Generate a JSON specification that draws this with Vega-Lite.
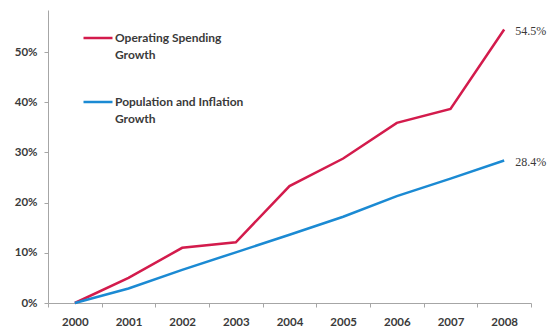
{
  "$schema": "https://vega.github.io/schema/vega-lite/v6.json",
  "width": 483,
  "height": 293,
  "autosize": {"type": "none"},
  "padding": {"left": 48, "top": 10, "right": 21, "bottom": 28},
  "background": "white",
  "config": {
    "view": {"stroke": null},
    "font": "Lato",
    "style": {"guide-label": {"lineHeight": 17}}
  },
  "data": {
    "values": [
      {"year": 2000, "series": "Operating Spending Growth", "value": 0.0},
      {"year": 2001, "series": "Operating Spending Growth", "value": 0.05},
      {"year": 2002, "series": "Operating Spending Growth", "value": 0.11},
      {"year": 2003, "series": "Operating Spending Growth", "value": 0.121},
      {"year": 2004, "series": "Operating Spending Growth", "value": 0.233},
      {"year": 2005, "series": "Operating Spending Growth", "value": 0.288},
      {"year": 2006, "series": "Operating Spending Growth", "value": 0.359},
      {"year": 2007, "series": "Operating Spending Growth", "value": 0.387},
      {"year": 2008, "series": "Operating Spending Growth", "value": 0.545},
      {"year": 2000, "series": "Population and Inflation Growth", "value": 0.0},
      {"year": 2001, "series": "Population and Inflation Growth", "value": 0.029},
      {"year": 2002, "series": "Population and Inflation Growth", "value": 0.066},
      {"year": 2003, "series": "Population and Inflation Growth", "value": 0.101},
      {"year": 2004, "series": "Population and Inflation Growth", "value": 0.136},
      {"year": 2005, "series": "Population and Inflation Growth", "value": 0.172},
      {"year": 2006, "series": "Population and Inflation Growth", "value": 0.213},
      {"year": 2007, "series": "Population and Inflation Growth", "value": 0.248},
      {"year": 2008, "series": "Population and Inflation Growth", "value": 0.284}
    ]
  },
  "encoding": {
    "x": {
      "field": "year",
      "type": "quantitative",
      "scale": {"domain": [1999.5, 2008.5], "nice": false, "zero": false},
      "axis": {
        "title": null,
        "grid": false,
        "values": [1999.5, 2000, 2000.5, 2001, 2001.5, 2002, 2002.5, 2003, 2003.5, 2004, 2004.5, 2005, 2005.5, 2006, 2006.5, 2007, 2007.5, 2008, 2008.5],
        "labelExpr": "datum.value % 1 === 0 ? format(datum.value, 'd') : ''",
        "labelOverlap": false,
        "labelFlush": false,
        "labelBound": false,
        "labelFont": "Lato",
        "labelFontWeight": "bold",
        "labelFontSize": 11.5,
        "labelColor": "#3a3a3a",
        "labelPadding": 9,
        "domainColor": "#a6a6a6",
        "tickColor": "#a6a6a6",
        "tickSize": 4,
        "tickOpacity": {"condition": {"test": "datum.value % 1 === 0", "value": 0}, "value": 1}
      }
    },
    "y": {
      "field": "value",
      "type": "quantitative",
      "scale": {"domain": [0, 0.584], "nice": false},
      "axis": {
        "title": null,
        "grid": false,
        "values": [0, 0.1, 0.2, 0.3, 0.4, 0.5],
        "format": ".0%",
        "labelFont": "Lato",
        "labelFontWeight": "bold",
        "labelFontSize": 11.5,
        "labelColor": "#3a3a3a",
        "labelPadding": 7,
        "domainColor": "#a6a6a6",
        "tickColor": "#a6a6a6",
        "tickSize": 4
      }
    }
  },
  "layer": [
    {
      "mark": {"type": "line", "strokeWidth": 2.5},
      "encoding": {
        "color": {
          "field": "series",
          "type": "nominal",
          "scale": {
            "domain": ["Operating Spending Growth", "Population and Inflation Growth"],
            "range": ["#d31b4c", "#1b8ad3"]
          },
          "legend": {
            "orient": "none",
            "legendX": 34,
            "legendY": 12,
            "title": null,
            "symbolType": "stroke",
            "symbolSize": 841,
            "symbolStrokeWidth": 2.5,
            "symbolFillColor": "transparent",
            "labelFont": "Lato",
            "labelFontWeight": "bold",
            "labelFontSize": 12,
            "labelColor": "#3a3a3a",
            "labelLineHeight": 17,
            "labelLimit": 300,
            "labelOffset": 1,
            "rowPadding": 25,
            "labelExpr": "datum.label === 'Operating Spending Growth' ? ['Operating Spending', 'Growth'] : ['Population and Inflation', 'Growth']"
          }
        }
      }
    },
    {
      "transform": [{"filter": "datum.year === 2008"}],
      "mark": {"type": "text", "align": "left", "dx": 11, "dy": 1, "font": "Liberation Serif", "fontSize": 12, "color": "#3a3a3a"},
      "encoding": {
        "text": {"field": "value", "type": "quantitative", "format": ".1%"}
      }
    }
  ]
}
